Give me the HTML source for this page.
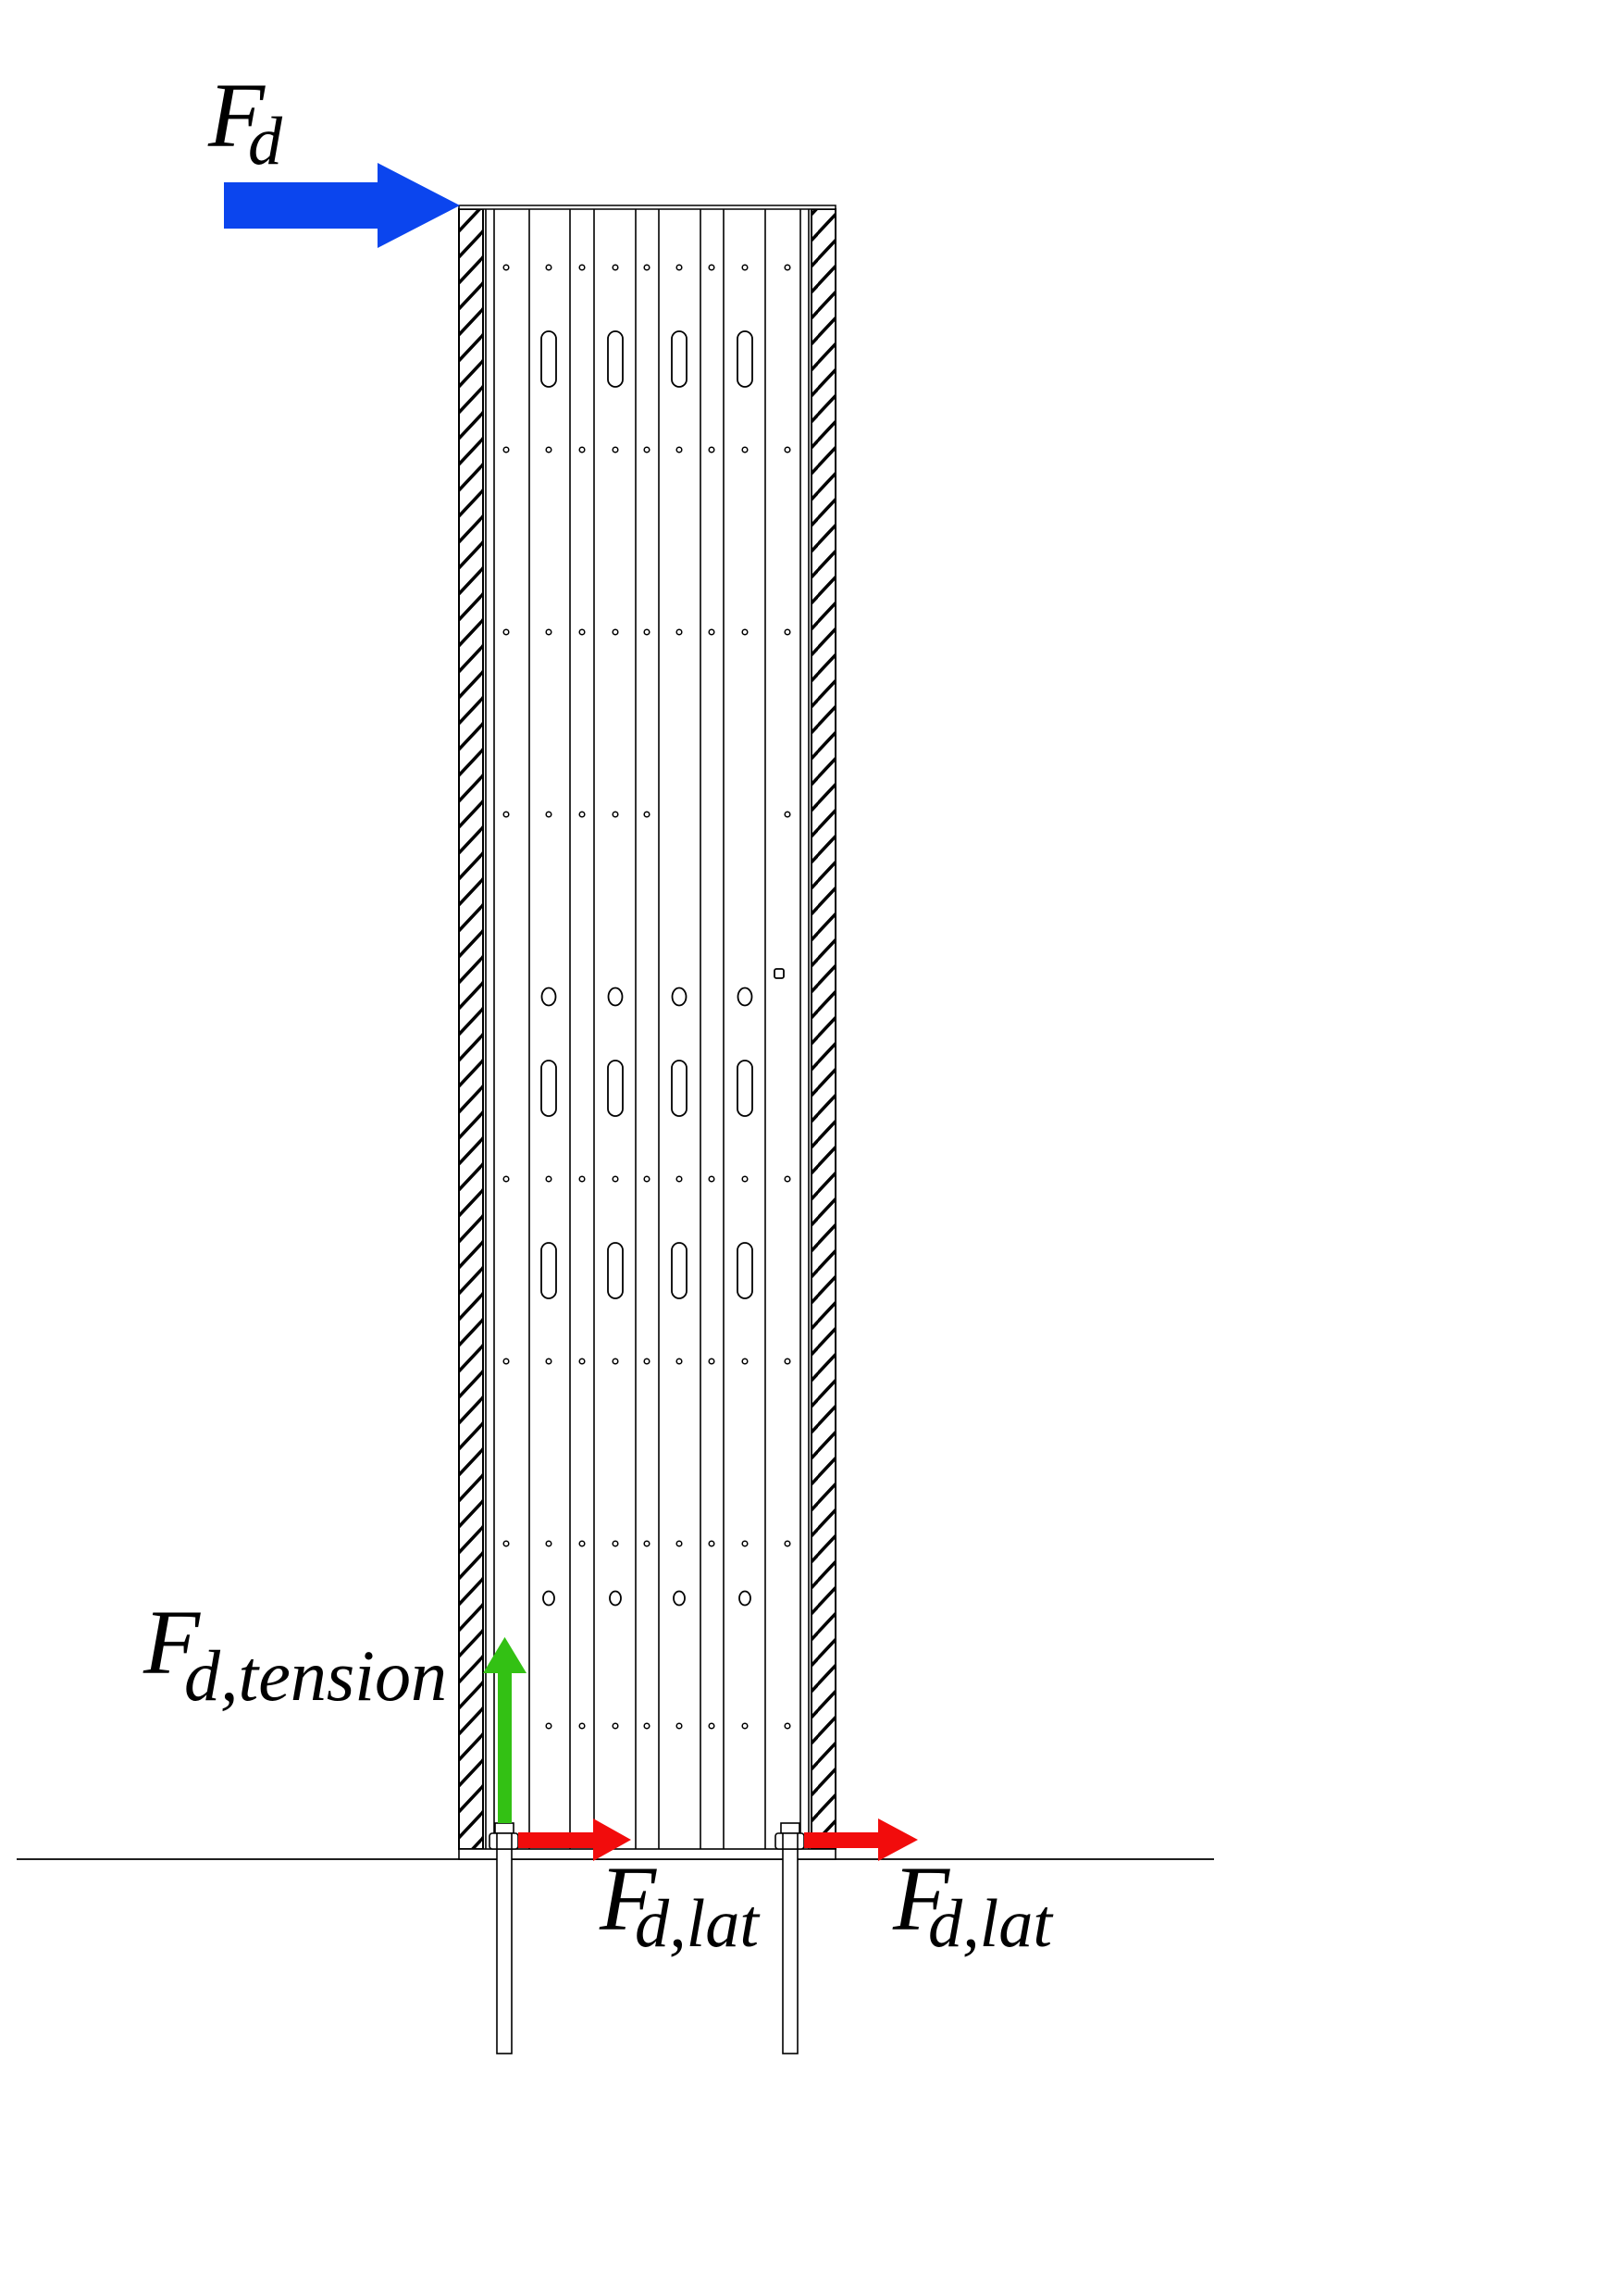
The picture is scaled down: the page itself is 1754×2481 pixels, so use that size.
<!DOCTYPE html>
<html><head><meta charset="utf-8"><style>
html,body{margin:0;padding:0;background:#fff;}
svg{display:block;}
</style></head><body>
<svg width="1754" height="2481" viewBox="0 0 1754 2481" xmlns="http://www.w3.org/2000/svg">
<defs>
<pattern id="h" patternUnits="userSpaceOnUse" x="0" y="0" width="26" height="28">
<line x1="-2" y1="30" x2="28" y2="-2" stroke="#000" stroke-width="3.5"/>
<line x1="-2" y1="58" x2="28" y2="26" stroke="#000" stroke-width="3.5"/>
<line x1="-2" y1="2" x2="28" y2="-30" stroke="#000" stroke-width="3.5"/>
</pattern>
<g id="row" fill="none" stroke="#000" stroke-width="1.5">
<circle cx="547" cy="0" r="2.8"/><circle cx="593" cy="0" r="2.8"/><circle cx="629" cy="0" r="2.8"/>
<circle cx="665" cy="0" r="2.8"/><circle cx="699" cy="0" r="2.8"/><circle cx="734" cy="0" r="2.8"/>
<circle cx="769" cy="0" r="2.8"/><circle cx="805" cy="0" r="2.8"/><circle cx="851" cy="0" r="2.8"/>
</g>
<g id="slots" fill="none" stroke="#000" stroke-width="1.8">
<rect x="585" y="0" width="16" height="60" rx="8"/>
<rect x="657" y="0" width="16" height="60" rx="8"/>
<rect x="726" y="0" width="16" height="60" rx="8"/>
<rect x="797" y="0" width="16" height="60" rx="8"/>
</g>
</defs>
<rect width="1754" height="2481" fill="#fff"/>

<!-- ground -->
<line x1="18" y1="2009" x2="1312" y2="2009" stroke="#000" stroke-width="1.8"/>

<!-- hatched walls -->
<rect x="496" y="226" width="26" height="1772" fill="url(#h)" stroke="#000" stroke-width="2"/>
<rect x="877" y="226" width="26" height="1772" fill="url(#h)" stroke="#000" stroke-width="2"/>

<!-- top plate -->
<rect x="496" y="222" width="407" height="4" fill="#fff" stroke="#000" stroke-width="1.5"/>

<!-- vertical lines -->
<g stroke="#000" stroke-width="1.6">
<line x1="525" y1="226" x2="525" y2="1998"/>
<line x1="534" y1="226" x2="534" y2="1998"/>
<line x1="572" y1="226" x2="572" y2="1998"/>
<line x1="616" y1="226" x2="616" y2="1998"/>
<line x1="642" y1="226" x2="642" y2="1998"/>
<line x1="687" y1="226" x2="687" y2="1998"/>
<line x1="712" y1="226" x2="712" y2="1998"/>
<line x1="757" y1="226" x2="757" y2="1998"/>
<line x1="782" y1="226" x2="782" y2="1998"/>
<line x1="827" y1="226" x2="827" y2="1998"/>
<line x1="865" y1="226" x2="865" y2="1998"/>
<line x1="874" y1="226" x2="874" y2="1998"/>
</g>

<!-- dots -->
<use href="#row" y="289"/><use href="#row" y="486"/><use href="#row" y="683"/>
<use href="#row" y="1274"/><use href="#row" y="1471"/><use href="#row" y="1668"/>
<g fill="none" stroke="#000" stroke-width="1.5">
<circle cx="547" cy="880" r="2.8"/><circle cx="593" cy="880" r="2.8"/><circle cx="629" cy="880" r="2.8"/>
<circle cx="665" cy="880" r="2.8"/><circle cx="699" cy="880" r="2.8"/><circle cx="851" cy="880" r="2.8"/>
<circle cx="593" cy="1865" r="2.8"/><circle cx="629" cy="1865" r="2.8"/><circle cx="665" cy="1865" r="2.8"/>
<circle cx="699" cy="1865" r="2.8"/><circle cx="734" cy="1865" r="2.8"/><circle cx="769" cy="1865" r="2.8"/>
<circle cx="805" cy="1865" r="2.8"/><circle cx="851" cy="1865" r="2.8"/>
</g>

<!-- slots & holes -->
<use href="#slots" y="358"/><use href="#slots" y="1146"/><use href="#slots" y="1343"/>
<g fill="none" stroke="#000" stroke-width="1.8">
<ellipse cx="593" cy="1077" rx="7.5" ry="9.5"/><ellipse cx="665" cy="1077" rx="7.5" ry="9.5"/>
<ellipse cx="734" cy="1077" rx="7.5" ry="9.5"/><ellipse cx="805" cy="1077" rx="7.5" ry="9.5"/>
<ellipse cx="593" cy="1727" rx="6" ry="7.5"/><ellipse cx="665" cy="1727" rx="6" ry="7.5"/>
<ellipse cx="734" cy="1727" rx="6" ry="7.5"/><ellipse cx="805" cy="1727" rx="6" ry="7.5"/>
<rect x="837" y="1047" width="10" height="10" rx="2"/>
</g>

<!-- base plate -->
<rect x="496" y="1998" width="407" height="11" fill="#fff" stroke="#000" stroke-width="1.6"/>

<!-- anchor rods -->
<g fill="#fff" stroke="#000" stroke-width="1.6">
<rect x="537" y="1998" width="16" height="221"/>
<rect x="846" y="1998" width="16" height="221"/>
<rect x="535" y="1970" width="20" height="11"/>
<rect x="844" y="1970" width="20" height="11"/>
<rect x="529" y="1981" width="31" height="17" rx="3"/>
<rect x="838" y="1981" width="31" height="17" rx="3"/>
<line x1="537" y1="1981" x2="537" y2="1998"/><line x1="553" y1="1981" x2="553" y2="1998"/>
<line x1="846" y1="1981" x2="846" y2="1998"/><line x1="862" y1="1981" x2="862" y2="1998"/>
</g>

<!-- green arrow -->
<rect x="538" y="1806" width="15" height="164" fill="#33c114"/>
<polygon points="522,1808 569,1808 545.5,1769" fill="#33c114"/>

<!-- red arrows -->
<rect x="560" y="1980" width="82" height="17" fill="#f20c0c"/>
<polygon points="641,1965 641,2011 682,1988" fill="#f20c0c"/>
<rect x="869" y="1980" width="81" height="17" fill="#f20c0c"/>
<polygon points="949,1965 949,2011 992,1988" fill="#f20c0c"/>

<!-- blue arrow -->
<rect x="242" y="197" width="167" height="50" fill="#0b45ee"/>
<polygon points="408,176 408,268 497,222" fill="#0b45ee"/>

<!-- labels -->
<g font-family="Liberation Serif, serif" font-style="italic" fill="#000">
<text x="225" y="158" font-size="100">F</text>
<text x="268" y="177" font-size="74">d</text>

<text x="155" y="1808" font-size="100">F</text>
<text x="199" y="1837" font-size="78" textLength="284" lengthAdjust="spacingAndGlyphs">d,tension</text>

<text x="648" y="2085" font-size="100">F</text>
<text x="686" y="2103" font-size="74" textLength="134" lengthAdjust="spacingAndGlyphs">d,lat</text>

<text x="965" y="2085" font-size="100">F</text>
<text x="1003" y="2103" font-size="74" textLength="134" lengthAdjust="spacingAndGlyphs">d,lat</text>
</g>
</svg>
</body></html>
